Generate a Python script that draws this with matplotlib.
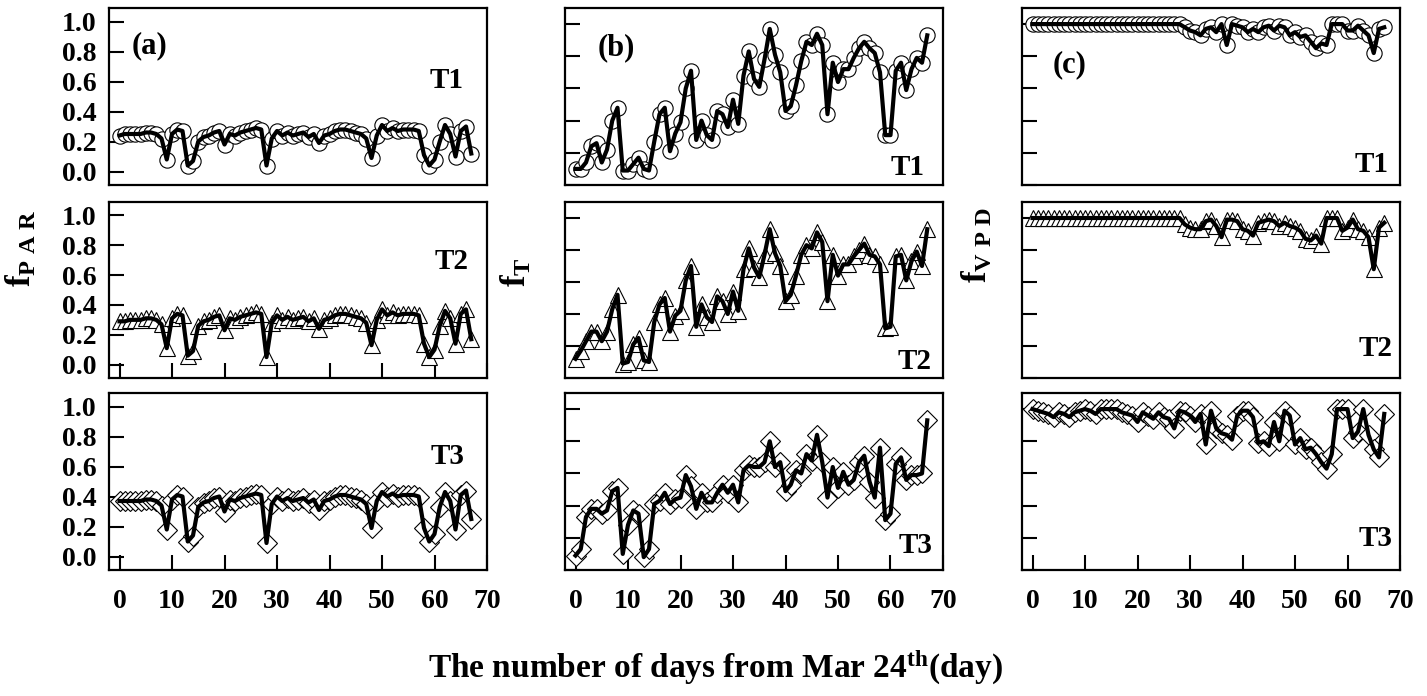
import numpy as np
import matplotlib
matplotlib.use('Agg')
import matplotlib.pyplot as plt

plt.rcParams['font.family'] = ['Liberation Serif', 'DejaVu Serif']
plt.rcParams['font.weight'] = 'bold'
plt.rcParams['mathtext.fontset'] = 'custom'
plt.rcParams['mathtext.rm'] = 'Liberation Serif:bold'
plt.rcParams['mathtext.bf'] = 'Liberation Serif:bold'
plt.rcParams['mathtext.it'] = 'Liberation Serif:bold'

days = np.arange(68)

# (a) fPAR
par_t1 = [0.24, 0.25, 0.25, 0.25, 0.25, 0.26, 0.26, 0.25, 0.22, 0.08,
          0.25, 0.28, 0.27, 0.04, 0.07, 0.20, 0.23, 0.24, 0.26, 0.27,
          0.18, 0.25, 0.24, 0.26, 0.27, 0.28, 0.29, 0.28, 0.04, 0.22,
          0.27, 0.24, 0.26, 0.24, 0.25, 0.26, 0.23, 0.25, 0.19, 0.24,
          0.25, 0.27, 0.28, 0.28, 0.27, 0.26, 0.25, 0.22, 0.09, 0.24,
          0.31, 0.27, 0.29, 0.27, 0.28, 0.28, 0.28, 0.27, 0.11, 0.04,
          0.08, 0.20, 0.31, 0.25, 0.10, 0.27, 0.30, 0.12]
par_t2 = [0.29, 0.29, 0.30, 0.30, 0.30, 0.31, 0.31, 0.30, 0.27, 0.11,
          0.31, 0.34, 0.33, 0.06, 0.09, 0.26, 0.29, 0.30, 0.32, 0.33,
          0.23, 0.31, 0.30, 0.32, 0.33, 0.34, 0.35, 0.34, 0.05, 0.28,
          0.33, 0.30, 0.32, 0.30, 0.31, 0.32, 0.29, 0.31, 0.24, 0.30,
          0.31, 0.33, 0.34, 0.34, 0.33, 0.32, 0.31, 0.28, 0.13, 0.30,
          0.37, 0.33, 0.35, 0.33, 0.34, 0.34, 0.34, 0.33, 0.14, 0.05,
          0.10, 0.26, 0.36, 0.31, 0.14, 0.34, 0.37, 0.17]
par_t3 = [0.37, 0.37, 0.37, 0.37, 0.37, 0.38, 0.38, 0.37, 0.34, 0.18,
          0.38, 0.41, 0.40, 0.10, 0.14, 0.33, 0.36, 0.37, 0.39, 0.40,
          0.30, 0.38, 0.37, 0.39, 0.40, 0.41, 0.42, 0.41, 0.09, 0.35,
          0.40, 0.37, 0.39, 0.37, 0.38, 0.39, 0.36, 0.38, 0.31, 0.37,
          0.38, 0.40, 0.41, 0.41, 0.40, 0.39, 0.38, 0.35, 0.19, 0.37,
          0.43, 0.40, 0.42, 0.40, 0.41, 0.41, 0.41, 0.40, 0.19, 0.10,
          0.15, 0.33, 0.43, 0.37, 0.18, 0.41, 0.44, 0.25]

# (b) fT
t_t1 = [0.10, 0.10, 0.14, 0.24, 0.26, 0.14, 0.22, 0.40, 0.48, 0.09,
        0.09, 0.13, 0.17, 0.10, 0.09, 0.27, 0.44, 0.48, 0.21, 0.32,
        0.39, 0.60, 0.71, 0.28, 0.40, 0.31, 0.28, 0.46, 0.44, 0.36,
        0.53, 0.38, 0.68, 0.83, 0.66, 0.61, 0.78, 0.97, 0.81, 0.70,
        0.46, 0.49, 0.62, 0.77, 0.89, 0.87, 0.94, 0.87, 0.44, 0.76,
        0.64, 0.72, 0.72, 0.79, 0.85, 0.89, 0.85, 0.82, 0.70, 0.31,
        0.31, 0.71, 0.76, 0.59, 0.72, 0.79, 0.76, 0.93]
t_t2 = [0.12, 0.17, 0.23, 0.29, 0.29, 0.23, 0.29, 0.43, 0.52, 0.09,
        0.10, 0.21, 0.25, 0.11, 0.10, 0.35, 0.46, 0.50, 0.29, 0.39,
        0.42, 0.61, 0.70, 0.32, 0.46, 0.38, 0.35, 0.51, 0.48, 0.40,
        0.54, 0.42, 0.68, 0.81, 0.69, 0.63, 0.77, 0.93, 0.78, 0.70,
        0.48, 0.52, 0.64, 0.77, 0.83, 0.81, 0.91, 0.85, 0.48, 0.77,
        0.64, 0.71, 0.71, 0.76, 0.80, 0.84, 0.77, 0.76, 0.71, 0.31,
        0.32, 0.76, 0.77, 0.61, 0.73, 0.79, 0.70, 0.93]
t_t3 = [0.09, 0.13, 0.33, 0.38, 0.38, 0.35, 0.37, 0.49, 0.51, 0.10,
        0.28, 0.37, 0.35, 0.08, 0.13, 0.41, 0.43, 0.48, 0.41, 0.44,
        0.45, 0.59, 0.52, 0.38, 0.48, 0.42, 0.42, 0.48, 0.53, 0.48,
        0.53, 0.42, 0.62, 0.65, 0.64, 0.64, 0.67, 0.80, 0.64, 0.67,
        0.49, 0.53, 0.62, 0.60, 0.72, 0.68, 0.84, 0.67, 0.45, 0.64,
        0.51, 0.61, 0.53, 0.56, 0.67, 0.71, 0.55, 0.45, 0.76, 0.31,
        0.35, 0.66, 0.70, 0.56, 0.59, 0.59, 0.60, 0.93]

# (c) fVPD
vpd_t1 = [1.0] * 29 + [
          0.98, 0.96, 0.95, 0.93, 0.97, 0.98, 0.95, 1.00, 0.87, 1.00,
          0.99, 0.98, 0.95, 0.97, 0.95, 0.98, 0.99, 0.96, 0.99, 0.98,
          0.93, 0.95, 0.92, 0.93, 0.89, 0.85, 0.88, 0.87, 1.00, 1.00,
          1.00, 0.96, 0.96, 0.99, 0.96, 0.93, 0.82, 0.97, 0.98][:39]
vpd_t2 = [1.0] * 29 + [
          0.96, 0.94, 0.93, 0.93, 0.98, 0.99, 0.95, 0.88, 0.99, 0.99,
          0.98, 0.93, 0.92, 0.89, 0.97, 0.98, 0.99, 0.98, 0.95, 0.97,
          0.95, 0.94, 0.92, 0.87, 0.86, 0.89, 0.84, 1.00, 1.00, 1.00,
          0.92, 0.94, 0.99, 0.93, 0.92, 0.88, 0.68, 0.94, 0.97][:39]
vpd_t3 = [1.00, 0.99, 0.98, 0.97, 0.95, 0.98, 0.97, 0.95, 0.98, 0.99,
          1.00, 0.99, 0.97, 1.00, 1.00, 1.00, 1.00, 0.98, 0.97, 0.96,
          0.92, 0.98, 0.96, 0.94, 0.98, 0.95, 0.94, 0.88, 0.99, 0.98,
          0.96, 0.92, 0.97, 0.78, 0.99, 0.88, 0.85, 0.84, 0.81, 0.96,
          0.99, 0.99, 0.95, 0.79, 0.80, 0.77, 0.92, 0.80, 0.99, 0.96,
          0.78, 0.82, 0.75, 0.76, 0.72, 0.67, 0.63, 0.72, 1.00, 1.00,
          1.00, 0.82, 0.86, 1.00, 0.84, 0.75, 0.70, 0.97]

columns = [
    ([par_t1, par_t2, par_t3], (-0.09, 1.09), '(a)'),
    ([t_t1, t_t2, t_t3], (0.0, 1.1), '(b)'),
    ([vpd_t1, vpd_t2, vpd_t3], (0.0, 1.1), '(c)'),
]
markers = ['o', '^', 'D']
msizes = [11, 12, 10]
row_names = ['T1', 'T2', 'T3']

# label positions (axes fraction) per column, per row
name_pos = [
    [(0.937, 0.593), (0.95, 0.66), (0.94, 0.64)],
    [(0.952, 0.10), (0.97, 0.093), (0.973, 0.14)],
    [(0.97, 0.113), (0.98, 0.17), (0.98, 0.18)],
]
letter_pos = [(0.06, 0.785), (0.085, 0.777), (0.082, 0.678)]

W, H = 1427., 696.
lefts = [109, 565, 1022]
tops = [8, 202, 393]
bottoms = [185, 378, 570]

fig = plt.figure(figsize=(14.27, 6.96), dpi=100)

for c, (series, ylim, letter) in enumerate(columns):
    for r in range(3):
        ax = fig.add_axes([lefts[c] / W, 1 - bottoms[r] / H,
                           378 / W, (bottoms[r] - tops[r]) / H])
        ax.plot(days, series[r], linestyle='none', marker=markers[r],
                markersize=msizes[r], markerfacecolor='white',
                markeredgecolor='black', markeredgewidth=0.8, zorder=2)
        ax.plot(days, series[r], color='black', linewidth=3.0, zorder=3)
        ax.set_xlim(-2, 70)
        ax.set_ylim(*ylim)
        ax.set_xticks(np.arange(0, 71, 10))
        ax.set_yticks(np.arange(0, 1.01, 0.2))
        for s in ax.spines.values():
            s.set_linewidth(1.6)
        show_x = (r == 2) or (c == 0 and r == 1)
        ax.tick_params(axis='x', direction='in', length=11, width=1.5,
                       bottom=show_x, labelbottom=(r == 2), labelsize=20, pad=14)
        ax.tick_params(axis='y', direction='in', length=11, width=1.5,
                       labelleft=(c == 0), labelsize=20, pad=9)
        if c == 0:
            ax.set_yticklabels(['%.1f' % v for v in np.arange(0, 1.01, 0.2)])
        nx, ny = name_pos[c][r]
        ax.text(nx, ny, row_names[r], transform=ax.transAxes,
                ha='right', va='center', fontsize=21, fontweight='bold')
        if r == 0:
            lx, ly = letter_pos[c]
            ax.text(lx, ly, letter, transform=ax.transAxes, ha='left',
                    va='center', fontsize=22, fontweight='bold')

fig.text(22 / W, 1 - 248 / H, r'$\mathrm{f}_{\mathrm{P\ A\ R}}$', rotation=90,
         ha='center', va='center', fontsize=25)
fig.text(517 / W, 1 - 272 / H, r'$\mathrm{f}_{\mathrm{T}}$', rotation=90,
         ha='center', va='center', fontsize=25)
fig.text(978 / W, 1 - 245 / H, r'$\mathrm{f}_{\mathrm{V\ P\ D}}$', rotation=90,
         ha='center', va='center', fontsize=25)
fig.text(715 / W, 1 - 668 / H,
         r'The number of days from Mar 24$^{\mathrm{th}}$(day)',
         ha='center', va='center', fontsize=24, fontweight='bold')

fig.savefig('out.png', dpi=100)
